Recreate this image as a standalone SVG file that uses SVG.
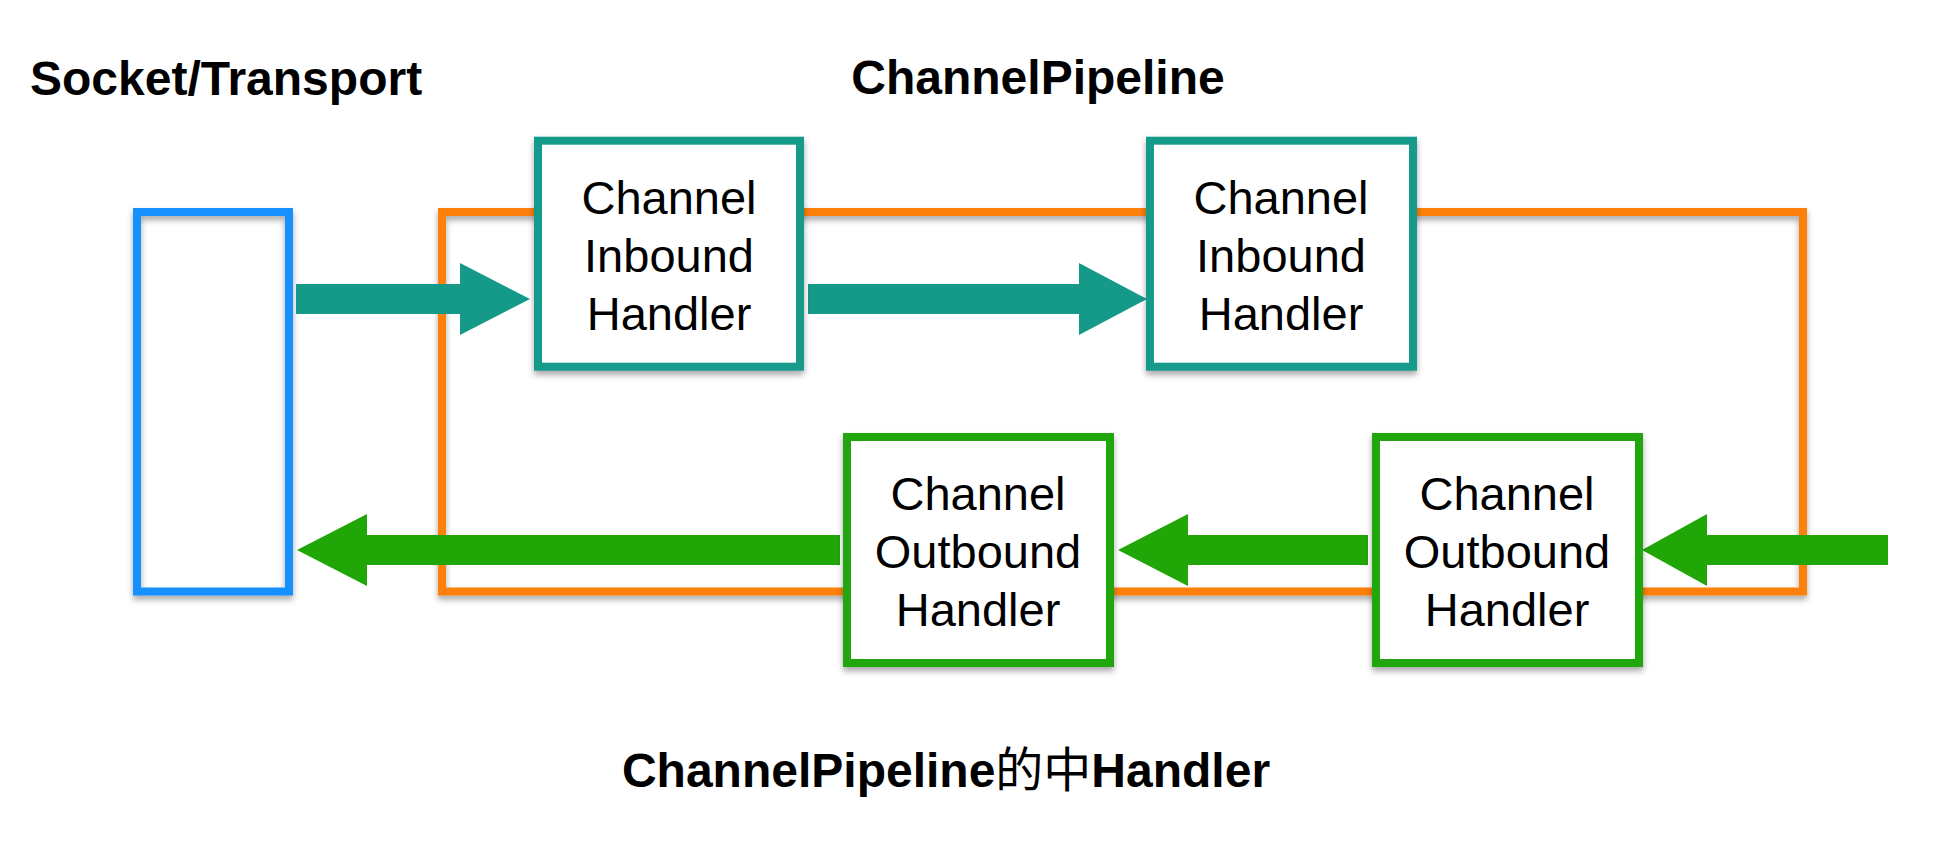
<svg xmlns="http://www.w3.org/2000/svg" width="1934" height="842" viewBox="0 0 1934 842">
  <style>
    .title { font-family: "Liberation Sans", Arial, sans-serif; font-weight: bold; font-size: 48px; fill: #000; }
    .cjk { font-family: "Liberation Sans", "Noto Sans CJK SC", sans-serif; }
    .cjkn { font-family: "Noto Sans CJK SC", sans-serif; font-weight: normal; }
    .lbl { font-family: "Liberation Sans", Arial, sans-serif; font-size: 47px; fill: #000; text-anchor: middle; }
    .box { fill: #fff; stroke-width: 8; filter: url(#shadow); }
    .frame { fill: none; stroke-width: 8; filter: url(#shadow); }
    .in { stroke: #159a8a; }
    .out { stroke: #21a608; }
    .teal { fill: #159a8a; }
    .green { fill: #21a608; }
  </style>
  <defs>
    <filter id="shadow" x="-10%" y="-10%" width="120%" height="130%">
      <feDropShadow dx="0" dy="4" stdDeviation="3" flood-color="#000" flood-opacity="0.35"/>
    </filter>
  </defs>
  <rect x="0" y="0" width="1934" height="842" fill="#fff"/>

  <g id="title-socket">
    <text class="title" x="30" y="95">Socket/Transport</text>
  </g>
  <g id="title-pipeline">
    <text class="title" x="1038" y="94" text-anchor="middle">ChannelPipeline</text>
  </g>

  <g id="pipeline">
    <rect class="frame" x="442" y="212" width="1361" height="379.5" stroke="#fd8008"/>
  </g>
  <g id="socket">
    <rect class="frame" x="137" y="212" width="152" height="379.5" stroke="#1590fe"/>
  </g>

  <g id="connectors">
    <polygon class="teal" points="296,284 460,284 460,263 530,299 460,335 460,314 296,314"/>
    <polygon class="teal" points="808,284 1079,284 1079,263 1147,299 1079,335 1079,314 808,314"/>
    <polygon class="green" points="1888,535 1707,535 1707,514 1642,550 1707,586 1707,565 1888,565"/>
    <polygon class="green" points="1368,535 1188,535 1188,514 1118,550 1188,586 1188,565 1368,565"/>
    <polygon class="green" points="840,535 367,535 367,514 297,550 367,586 367,565 840,565"/>
  </g>

  <g id="inbound-1">
    <rect class="box in" x="538" y="140.7" width="262" height="226"/>
    <text class="lbl" x="669" y="214">Channel</text>
    <text class="lbl" x="669" y="272">Inbound</text>
    <text class="lbl" x="669" y="330">Handler</text>
  </g>
  <g id="inbound-2">
    <rect class="box in" x="1150" y="140.7" width="263" height="226"/>
    <text class="lbl" x="1281" y="214">Channel</text>
    <text class="lbl" x="1281" y="272">Inbound</text>
    <text class="lbl" x="1281" y="330">Handler</text>
  </g>
  <g id="outbound-1">
    <rect class="box out" x="847" y="437" width="263" height="226"/>
    <text class="lbl" x="978" y="510">Channel</text>
    <text class="lbl" x="978" y="568">Outbound</text>
    <text class="lbl" x="978" y="626">Handler</text>
  </g>
  <g id="outbound-2">
    <rect class="box out" x="1376" y="437" width="263" height="226"/>
    <text class="lbl" x="1507" y="510">Channel</text>
    <text class="lbl" x="1507" y="568">Outbound</text>
    <text class="lbl" x="1507" y="626">Handler</text>
  </g>

  <g id="caption">
    <text class="title cjk" x="946" y="787" text-anchor="middle">ChannelPipeline<tspan class="cjkn">的中</tspan>Handler</text>
  </g>
</svg>
